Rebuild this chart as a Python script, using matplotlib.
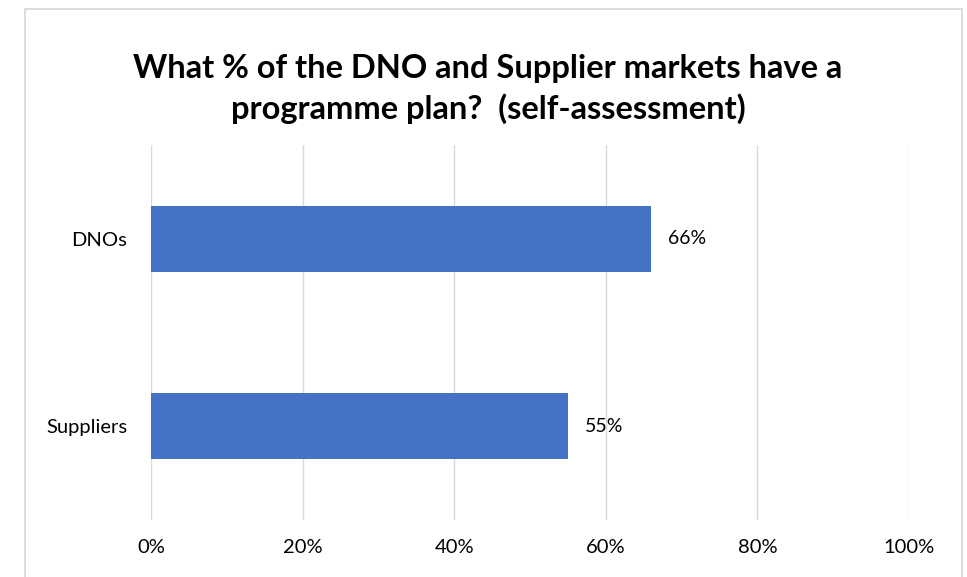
import matplotlib
matplotlib.use("Agg")
import matplotlib.pyplot as plt
from matplotlib.patches import Rectangle
from matplotlib.ticker import FuncFormatter

# survey results (share of market with a programme plan)
categories = ["Suppliers", "DNOs"]
values = [55, 66]
xticks = [0, 20, 40, 60, 80, 100]
title = "What % of the DNO and Supplier markets have a\nprogramme plan?  (self-assessment)"

barColor = "#4472C4"
gridColor = "#D9D9D9"
textColor = "#000000"

plt.rcParams["font.family"] = ["Lato", "DejaVu Sans"]

fig = plt.figure(figsize=(9.67, 5.77), dpi=100)
fig.patch.set_facecolor("white")

# outer chart frame, runs off the bottom edge
frame = Rectangle((25/967, -0.05), (962-25)/967, 1.05 - 9/577,
                  transform=fig.transFigure, fill=False,
                  edgecolor=gridColor, linewidth=1.3)
fig.patches.append(frame)

ax = fig.add_axes([151/967, 1 - 520/577, (909-151)/967, (520-145)/577])
ypos = range(len(categories))
ax.barh(ypos, values, height=0.35, color=barColor, zorder=3)

for y, v in zip(ypos, values):
    ax.text(v + 2.2, y, "{}%".format(v), va="center", ha="left",
            fontsize=14, color=textColor)

ax.set_xlim(0, 100)
ax.set_ylim(-0.5, 1.5)
ax.set_xticks(xticks)
ax.xaxis.set_major_formatter(FuncFormatter(lambda x, p: "{:.0f}%".format(x)))
ax.set_yticks(list(ypos))
ax.set_yticklabels(categories)
ax.tick_params(axis="both", length=0, labelsize=14.5, colors=textColor)
ax.tick_params(axis="x", pad=14)
ax.tick_params(axis="y", pad=17)
ax.grid(axis="x", color=gridColor, linewidth=1, zorder=0)
for s in ax.spines.values():
    s.set_visible(False)

fig.text(488/967, 1 - 89/577, title, ha="center", va="center",
         fontsize=23.5, fontweight="bold", color=textColor, linespacing=1.42)

fig.savefig("out.png", dpi=100)
